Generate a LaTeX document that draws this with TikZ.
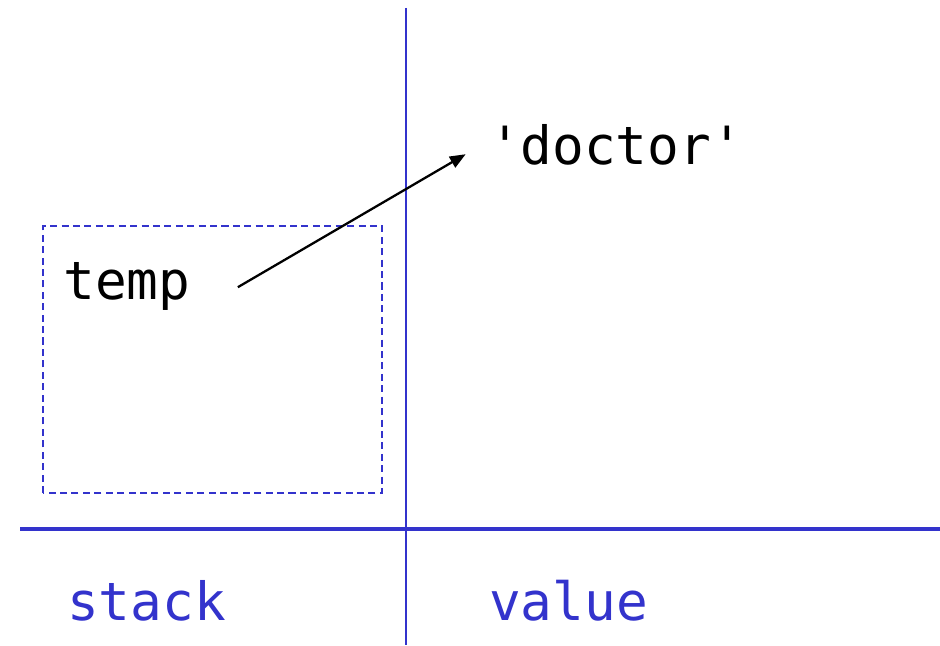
\documentclass[tikz,border=0pt]{standalone}
\usepackage{fontspec}
\setmonofont{DejaVu Sans Mono}
\usetikzlibrary{positioning,arrows.meta}
\definecolor{framblue}{RGB}{51,51,204}

\begin{document}
\begin{tikzpicture}[
        varname/.style={font=\ttfamily\fontsize{30}{36}\selectfont, text=black, inner sep=0pt, anchor=base},
        collabel/.style={font=\ttfamily\fontsize{30}{36}\selectfont, text=framblue, inner sep=0pt, anchor=base},
        divider/.style={draw=framblue, line width=1.4pt},
        framebox/.style={draw=framblue, line width=1pt, dash pattern=on 4pt off 2.5pt},
        pointer/.style={-{Triangle[length=9pt,width=7pt]}, line width=1.3pt, black}
    ]
    \useasboundingbox (0,0) rectangle (18.8,12.9);

    % Dividers
    \draw[divider] (8.12,12.74) -- (8.12,0);
    \draw[divider, line width=1.8pt] (0.4,2.32) -- (18.8,2.32);

    % Frame and variable
    \draw[framebox] (0.86,3.04) rectangle (7.64,8.38);
    \node[varname] (temp) at (2.54,6.9) {temp};
    \node[varname] (doctor) at (12.32,9.6) {'doctor'};
    \draw[pointer] ([xshift=0.94cm, yshift=0.18cm]temp.mid east) -- ([xshift=-0.46cm, yshift=0.14cm]doctor.mid west);

    % Column labels
    \node[collabel] (stack) at (2.93,0.5) {stack};
    \node[collabel] (value) at (11.37,0.5) {value};
\end{tikzpicture}
\end{document}
